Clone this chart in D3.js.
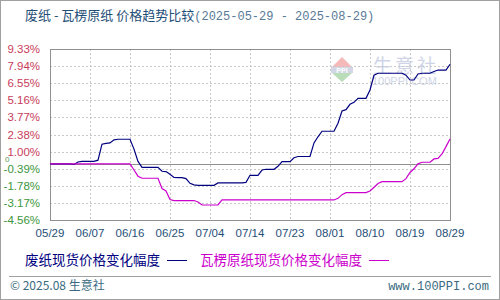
<!DOCTYPE html>
<html>
<head>
<meta charset="utf-8">
<script src="https://cdn.jsdelivr.net/npm/d3@7"></script>
<style>
  body { margin: 0; background: #fff; }
  svg { display: block; }
</style>
</head>
<body>
<div id="chart"></div>
<script>
// tick labels
const xLabels = ['05/29', '06/07', '06/16', '06/25', '07/04', '07/14', '07/23', '08/01', '08/10', '08/19', '08/29'];
const yTicks = [9.33, 7.94, 6.55, 5.16, 3.77, 2.38, 1.00, -0.39, -1.78, -3.17, -4.56];

// series values (%), one per record, 101 records
const wastePaper = [
  0, 0, 0, 0, 0, 0, -0.05, 0.15, 0.2, 0.2,
  0.2, 0.2, 0.3, 1.6, 1.67, 1.7, 1.95, 2.0, 2.0, 2.0,
  2.0, 1.2, 0.2, -0.28, -0.28, -0.28, -0.28, -0.28, -0.6, -0.63,
  -0.85, -1.1, -1.12, -1.12, -1.2, -1.58, -1.7, -1.74, -1.74, -1.74,
  -1.74, -1.74, -1.55, -1.55, -1.55, -1.55, -1.55, -1.55, -1.55, -1.5,
  -0.93, -0.93, -0.93, -0.5, -0.44, -0.44, -0.44, -0.2, 0.18, 0.18,
  0.18, 0.5, 0.6, 0.6, 0.6, 0.6, 1.7, 2.2, 2.65, 2.65,
  2.65, 2.65, 3.3, 4.29, 4.4, 4.84, 5.0, 5.32, 5.32, 5.32,
  6.0, 7.2, 7.36, 7.36, 7.36, 7.36, 7.36, 7.36, 7.36, 7.2,
  6.81, 6.81, 7.3, 7.36, 7.36, 7.36, 7.5, 7.62, 7.62, 7.62,
  8.09
];
const corrugated = [
  0, 0, 0, 0, 0, 0, 0, 0, 0, 0,
  0, 0, 0, 0, 0, 0, 0, 0, 0, 0,
  0, -0.5, -1.0, -1.17, -1.17, -1.17, -1.17, -1.17, -2.0, -2.2,
  -2.9, -2.98, -2.98, -2.98, -2.98, -2.98, -2.98, -3.1, -3.34, -3.34,
  -3.34, -3.34, -3.34, -2.93, -2.93, -2.93, -2.93, -2.93, -2.93, -2.93,
  -2.93, -2.93, -2.93, -2.93, -2.93, -2.93, -2.93, -2.93, -2.93, -2.93,
  -2.93, -2.93, -2.93, -2.93, -2.93, -2.93, -2.93, -2.93, -2.93, -2.93,
  -2.93, -2.93, -2.8, -2.5, -2.34, -2.34, -2.34, -2.34, -2.34, -2.34,
  -2.2, -1.9, -1.6, -1.45, -1.45, -1.45, -1.45, -1.45, -1.45, -1.2,
  -0.7, -0.4, 0.0, 0.13, 0.13, 0.13, 0.4, 0.45, 0.8, 1.4,
  2.02
];
const seriesNames = ['废纸现货价格变化幅度', '瓦楞原纸现货价格变化幅度'];

const W = 500, H = 300;
const margin = { top: 49, right: 50, bottom: 80, left: 50 },
  width = W - margin.left - margin.right,
  height = H - margin.top - margin.bottom;

const svg = d3.select('#chart').append('svg')
  .attr('width', W).attr('height', H)
  .style('font-family', '"Liberation Sans", "Noto Sans CJK SC", sans-serif');

// outer border
svg.append('rect').attr('x', 0.5).attr('y', 0.5).attr('width', W - 1).attr('height', H - 1)
  .attr('fill', '#fff').attr('stroke', '#a0a0a0');

// title
const title = svg.append('text').attr('x', 25).attr('y', 20)
  .style('font-size', '13px').style('font-family', '"Noto Sans CJK SC", sans-serif');
title.append('tspan').attr('fill', '#1f4f78').text('废纸 - 瓦楞原纸 价格趋势比较');
title.append('tspan').attr('fill', '#5a7a98').style('font-family', '"Liberation Mono", monospace')
  .style('font-size', '12px').text('(2025-05-29 - 2025-08-29)');

const g = svg.append('g').attr('transform', `translate(${margin.left},${margin.top})`);

const x = d3.scaleLinear().domain([0, wastePaper.length - 1]).range([0, width]);
const y = d3.scaleLinear().domain([d3.min(yTicks), d3.max(yTicks)]).range([height, 0]);
const xTickIdx = xLabels.map((d, i) => i * (wastePaper.length - 1) / (xLabels.length - 1));

// watermark
const wm = g.append('g').attr('opacity', 0.55);
wm.append('path').attr('d', 'M292,8 L302,18 L282,18 Z').attr('fill', '#f08080');
wm.append('rect').attr('x', 281).attr('y', 18).attr('width', 22).attr('height', 6).attr('fill', '#b0b8d0');
wm.append('text').attr('x', 292).attr('y', 24).attr('text-anchor', 'middle')
  .attr('fill', '#fff').style('font-size', '7px').style('font-weight', 'bold').text('PPI');
wm.append('path').attr('d', 'M282,24 L302,24 L292,33 Z').attr('fill', '#80c080');
wm.append('text').attr('x', 323).attr('y', 24).attr('fill', '#a8b4d4')
  .style('font-size', '19px').style('font-family', '"Noto Sans CJK SC", sans-serif')
  .style('letter-spacing', '3px').text('生意社');
wm.append('text').attr('x', 322).attr('y', 36).attr('fill', '#a8b4d4')
  .style('font-size', '11px').text('100PPI.COM');

// grid
g.append('g').selectAll('line').data(yTicks).join('line')
  .attr('x1', 0).attr('x2', width)
  .attr('y1', d => Math.round(y(d)) + 0.5).attr('y2', d => Math.round(y(d)) + 0.5)
  .attr('stroke', '#c8c8c8').attr('stroke-dasharray', '2,2');
g.append('g').selectAll('line').data(xTickIdx).join('line')
  .attr('y1', 0).attr('y2', height)
  .attr('x1', d => Math.round(x(d)) + 0.5).attr('x2', d => Math.round(x(d)) + 0.5)
  .attr('stroke', '#c8c8c8').attr('stroke-dasharray', '2,2');

// zero line
g.append('line').attr('x1', 0).attr('x2', width)
  .attr('y1', Math.round(y(0)) + 0.5).attr('y2', Math.round(y(0)) + 0.5)
  .attr('stroke', '#909090');

// frame
g.append('rect').attr('x', 0.5).attr('y', 0.5).attr('width', width).attr('height', height)
  .attr('fill', 'none').attr('stroke', '#909090');

// y labels
g.append('g').selectAll('text').data(yTicks).join('text')
  .attr('x', -10).attr('y', d => y(d)).attr('dy', '0.35em')
  .attr('text-anchor', 'end')
  .attr('fill', d => d >= 0 ? '#c83c5a' : '#3c963c')
  .style('font-size', '11.5px')
  .text(d => d.toFixed(2) + '%');
// small zero marker, sits just above the -0.39% label
g.append('text').attr('x', -45).attr('y', y(0)).attr('dy', '-0.2em')
  .attr('fill', '#5a9a5a').style('font-size', '8px').text('0');

// x labels
g.append('g').selectAll('text').data(xLabels).join('text')
  .attr('x', (d, i) => x(xTickIdx[i])).attr('y', height + 17)
  .attr('text-anchor', 'middle').attr('fill', '#1f4f78')
  .style('font-size', '11.5px')
  .text(d => d);

// lines
const line = d3.line().x((d, i) => x(i)).y(d => y(d));
g.append('path').datum(wastePaper).attr('d', line)
  .attr('fill', 'none').attr('stroke', '#000080').attr('stroke-width', 1.2);
g.append('path').datum(corrugated).attr('d', line)
  .attr('fill', 'none').attr('stroke', '#cc00cc').attr('stroke-width', 1.2);

// legend
const legend = svg.append('g').style('font-family', '"Noto Sans CJK SC", sans-serif')
  .style('font-size', '13.5px');
const legColors = ['#000080', '#cc00cc'];
const legX = [25, 200];
seriesNames.forEach((name, i) => {
  const t = legend.append('text').attr('x', legX[i]).attr('y', 265)
    .attr('fill', legColors[i]).text(name);
  const tw = t.node().getComputedTextLength();
  legend.append('line').attr('x1', legX[i] + tw + 7).attr('x2', legX[i] + tw + 27)
    .attr('y1', 260.5).attr('y2', 260.5).attr('stroke', legColors[i]);
});

// footer
svg.append('line').attr('x1', 9).attr('x2', 491).attr('y1', 276.5).attr('y2', 276.5)
  .attr('stroke', '#a0a0a0');
svg.append('text').attr('x', 10).attr('y', 290).attr('fill', '#3a6a80')
  .style('font-size', '12px').style('font-family', '"Noto Sans CJK SC", sans-serif')
  .text('© 2025.08 生意社');
svg.append('text').attr('x', 489).attr('y', 290).attr('text-anchor', 'end').attr('fill', '#3a6a80')
  .style('font-size', '12px').style('font-family', '"Liberation Mono", monospace')
  .text('www.100PPI.com');
</script>
</body>
</html>
